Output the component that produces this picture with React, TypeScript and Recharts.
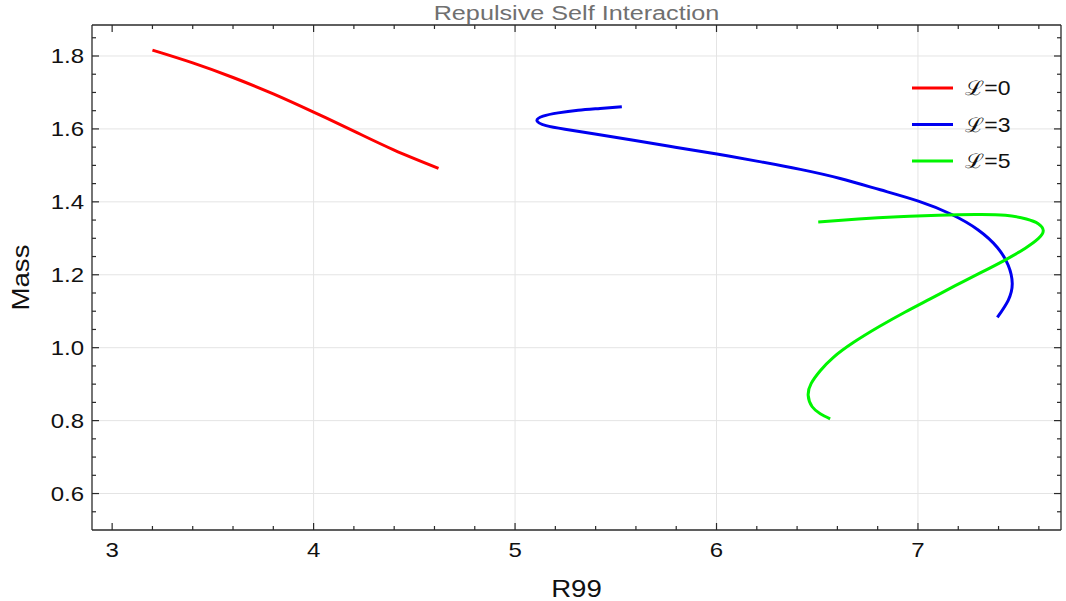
import React from 'react';
import {
  LineChart,
  Line,
  XAxis,
  YAxis,
  CartesianGrid,
  Legend,
  Label,
} from 'recharts';

// values
const L0_R99 = [3.2, 3.4, 3.6, 3.8, 4.0, 4.2, 4.4, 4.62];
const L0_MASS = [1.816, 1.781, 1.741, 1.696, 1.646, 1.594, 1.542, 1.492];

const L3_R99 = [
  5.53, 5.422, 5.313, 5.214, 5.139, 5.109, 5.154, 5.248, 5.397, 5.588, 5.795,
  6.002, 6.207, 6.416, 6.614, 6.813, 7.002, 7.165, 7.299, 7.394, 7.448, 7.468,
  7.448, 7.394,
];
const L3_MASS = [
  1.661, 1.656, 1.651, 1.644, 1.635, 1.622, 1.609, 1.599, 1.586, 1.569, 1.55,
  1.531, 1.511, 1.489, 1.464, 1.433, 1.402, 1.366, 1.323, 1.275, 1.226, 1.176,
  1.13, 1.083,
];

const L5_R99 = [
  6.505, 6.704, 6.902, 7.101, 7.285, 7.434, 7.538, 7.597, 7.622, 7.597, 7.533,
  7.434, 7.309, 7.185, 7.061, 6.937, 6.808, 6.679, 6.579, 6.515, 6.47, 6.455,
  6.475, 6.515, 6.564,
];
const L5_MASS = [
  1.345, 1.353, 1.359, 1.363, 1.365, 1.363, 1.353, 1.34, 1.321, 1.299, 1.273,
  1.241, 1.205, 1.17, 1.134, 1.098, 1.058, 1.014, 0.973, 0.937, 0.902, 0.869,
  0.838, 0.819, 0.805,
];

const X_MAJOR = [3, 4, 5, 6, 7];
const X_MINOR = [3.2, 3.4, 3.6, 3.8, 4.2, 4.4, 4.6, 4.8, 5.2, 5.4, 5.6, 5.8, 6.2, 6.4, 6.6, 6.8, 7.2, 7.4, 7.6];
const Y_MAJOR = [0.6, 0.8, 1.0, 1.2, 1.4, 1.6, 1.8];
const Y_MINOR = [
  0.55, 0.65, 0.7, 0.75, 0.85, 0.9, 0.95, 1.05, 1.1, 1.15, 1.25, 1.3, 1.35,
  1.45, 1.5, 1.55, 1.65, 1.7, 1.75, 1.85,
];
const X_GRID = [4, 5, 6, 7];

const X_DOMAIN = [2.9, 7.71];
const Y_DOMAIN = [0.5, 1.885];

const toPoints = (xs: number[], ys: number[]) => xs.map((x, i) => ({ x, y: ys[i] }));

const series = [
  { name: 'ℒ=0', color: '#ff0000', data: toPoints(L0_R99, L0_MASS) },
  { name: 'ℒ=3', color: '#0000f0', data: toPoints(L3_R99, L3_MASS) },
  { name: 'ℒ=5', color: '#00f500', data: toPoints(L5_R99, L5_MASS) },
];

const FONT = '"Liberation Sans", Arial, sans-serif';
const AXIS = '#2a2a2a';
const STRETCH = 1.2;

const isMajor = (list: number[], v: number) => list.some((m) => Math.abs(m - v) < 1e-6);

const BottomTick = (props: any) => {
  const { x, y, payload } = props;
  const major = isMajor(X_MAJOR, payload.value);
  return (
    <g>
      <line x1={x} x2={x} y1={y} y2={y - (major ? 7 : 4)} stroke={AXIS} strokeWidth={1.2} />
      {major && (
        <text
          transform={`translate(${x},${y + 27}) scale(${STRETCH},1)`}
          textAnchor="middle"
          fontSize={20}
          fontFamily={FONT}
          fill="#111"
        >
          {payload.value}
        </text>
      )}
    </g>
  );
};

const TopTick = (props: any) => {
  const { x, y, payload } = props;
  const major = isMajor(X_MAJOR, payload.value);
  return <line x1={x} x2={x} y1={y} y2={y + (major ? 7 : 4)} stroke={AXIS} strokeWidth={1.2} />;
};

const LeftTick = (props: any) => {
  const { x, y, payload } = props;
  const major = isMajor(Y_MAJOR, payload.value);
  return (
    <g>
      <line x1={x} x2={x + (major ? 7 : 4)} y1={y} y2={y} stroke={AXIS} strokeWidth={1.2} />
      {major && (
        <text
          transform={`translate(${x - 8},${y + 7}) scale(${STRETCH},1)`}
          textAnchor="end"
          fontSize={20}
          fontFamily={FONT}
          fill="#111"
        >
          {payload.value.toFixed(1)}
        </text>
      )}
    </g>
  );
};

const RightTick = (props: any) => {
  const { x, y, payload } = props;
  const major = isMajor(Y_MAJOR, payload.value);
  return <line x1={x} x2={x - (major ? 7 : 4)} y1={y} y2={y} stroke={AXIS} strokeWidth={1.2} />;
};

const renderLegend = (props: any) => {
  const { payload } = props;
  return (
    <svg width={150} height={120}>
      {(payload || []).map((entry: any, i: number) => {
        const cy = 18 + i * 36.5;
        return (
          <g key={entry.value}>
            <line x1={7} x2={48} y1={cy} y2={cy} stroke={entry.color} strokeWidth={3} />
            <text
              transform={`translate(60,${cy + 7}) scale(1.15,1)`}
              fontSize={20}
              fontFamily={FONT}
              fill="#111"
            >
              {entry.value}
            </text>
          </g>
        );
      })}
    </svg>
  );
};

export default function App() {
  return (
    <div style={{ position: 'absolute', left: 0, top: 0, background: '#fff' }}>
      <LineChart width={1066} height={601} margin={{ top: 24, right: 4, bottom: 31, left: 32 }}>
        <CartesianGrid
          stroke="#e4e4e4"
          strokeWidth={1}
          verticalValues={X_GRID}
          horizontalValues={Y_MAJOR}
        />
        <XAxis
          type="number"
          dataKey="x"
          domain={X_DOMAIN}
          allowDataOverflow
          ticks={[...X_MAJOR, ...X_MINOR]}
          interval={0}
          height={40}
          tickLine={false}
          tickSize={0}
          tickMargin={0}
          tick={<BottomTick />}
          axisLine={{ stroke: AXIS, strokeWidth: 1.3 }}
        >
          <Label
            content={({ viewBox }: any) => (
              <text
                transform={`translate(${viewBox.x + viewBox.width / 2},${viewBox.y + 67}) scale(${STRETCH},1)`}
                textAnchor="middle"
                fontSize={23}
                fontFamily={FONT}
                fill="#111"
              >
                R99
              </text>
            )}
          />
        </XAxis>
        <XAxis
          xAxisId="top"
          orientation="top"
          type="number"
          dataKey="x"
          domain={X_DOMAIN}
          allowDataOverflow
          ticks={[...X_MAJOR, ...X_MINOR]}
          interval={0}
          height={1}
          tickLine={false}
          tickSize={0}
          tickMargin={0}
          tick={<TopTick />}
          axisLine={{ stroke: AXIS, strokeWidth: 1.3 }}
        >
          <Label
            content={({ viewBox }: any) => (
              <text
                transform={`translate(${viewBox.x + viewBox.width / 2},20) scale(${STRETCH},1)`}
                textAnchor="middle"
                fontSize={21}
                fontFamily={FONT}
                fill="#707070"
              >
                Repulsive Self Interaction
              </text>
            )}
          />
        </XAxis>
        <YAxis
          type="number"
          domain={Y_DOMAIN}
          allowDataOverflow
          ticks={[...Y_MAJOR, ...Y_MINOR]}
          interval={0}
          width={60}
          tickLine={false}
          tickSize={0}
          tickMargin={0}
          tick={<LeftTick />}
          axisLine={{ stroke: AXIS, strokeWidth: 1.3 }}
        >
          <Label
            content={({ viewBox }: any) => (
              <text
                transform={`translate(29,${viewBox.y + viewBox.height / 2}) rotate(-90) scale(${STRETCH},1)`}
                textAnchor="middle"
                fontSize={23}
                fontFamily={FONT}
                fill="#111"
              >
                Mass
              </text>
            )}
          />
        </YAxis>
        <YAxis
          yAxisId="right"
          orientation="right"
          type="number"
          domain={Y_DOMAIN}
          allowDataOverflow
          ticks={[...Y_MAJOR, ...Y_MINOR]}
          interval={0}
          width={1}
          tickLine={false}
          tickSize={0}
          tickMargin={0}
          tick={<RightTick />}
          axisLine={{ stroke: AXIS, strokeWidth: 1.3 }}
        />
        <Legend
          layout="vertical"
          align="center"
          verticalAlign="middle"
          content={renderLegend}
          wrapperStyle={{ position: 'absolute', left: 905, top: 70, width: 150 }}
        />
        {series.map((s) => (
          <Line
            key={s.name}
            name={s.name}
            data={s.data}
            dataKey="y"
            type="natural"
            stroke={s.color}
            strokeWidth={3}
            dot={false}
            activeDot={false}
            isAnimationActive={false}
          />
        ))}
      </LineChart>
    </div>
  );
}
